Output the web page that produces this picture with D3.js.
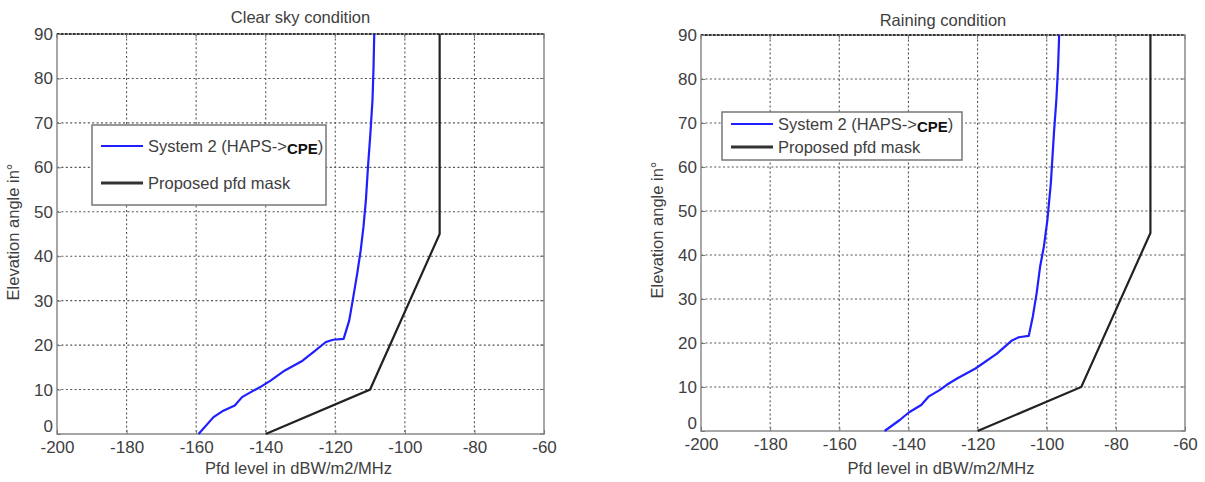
<!DOCTYPE html>
<html>
<head>
<meta charset="utf-8">
<script src="https://cdn.jsdelivr.net/npm/d3@7"></script>
<style>
  html, body { margin: 0; padding: 0; background: #fff; }
  svg { display: block; font-family: Arial, "Liberation Sans", sans-serif; }
</style>
</head>
<body>
<svg id="chart" width="1205" height="482"></svg>
<script>
// Elevation angle (deg) vs pfd level (dBW/m2/MHz)
const xTicks = [-200, -180, -160, -140, -120, -100, -80, -60];
const yTicks = [0, 10, 20, 30, 40, 50, 60, 70, 80, 90];

// System 2 (HAPS->CPE), clear sky
const clearPfd = [-159.3, -155.0, -152.5, -148.9, -146.8, -144.8, -141.7, -138.6, -134.5, -129.4, -126.3, -122.7, -120.6, -117.6, -116.0, -115.0, -113.7, -112.7, -111.9, -111.2, -110.6, -109.9, -109.3, -109.0, -108.8];
const clearElev = [0, 3.8, 5.1, 6.4, 8.3, 9.2, 10.5, 12.0, 14.3, 16.5, 18.4, 20.7, 21.2, 21.4, 25.5, 30.0, 36.1, 41.3, 46.6, 52.6, 60.1, 67.7, 75.2, 82.7, 90];

// System 2 (HAPS->CPE), raining
const rainPfd = [-146.9, -142.5, -139.9, -136.3, -134.2, -131.0, -128.9, -125.8, -120.6, -114.4, -110.2, -108.1, -105.2, -104.0, -102.9, -101.9, -100.8, -99.8, -98.8, -97.9, -97.2, -96.7, -96.4];
const rainElev = [0, 2.5, 4.2, 5.9, 7.8, 9.3, 10.5, 12.0, 14.2, 17.6, 20.5, 21.3, 21.6, 26.1, 31.4, 37.4, 42.0, 48.0, 56.4, 67.8, 75.4, 83.0, 90];

// Proposed pfd masks
const maskClearPfd = [-140, -110, -90, -90];
const maskClearElev = [0, 10, 45, 90];
const maskRainPfd = [-120, -90, -70, -70];
const maskRainElev = [0, 10, 45, 90];

const titles = ["Clear sky condition", "Raining condition"];
const legendLabels = ["System 2 (HAPS->", "CPE", ")", "Proposed pfd mask"];
const xLabel = "Pfd level in dBW/m2/MHz";
const yLabel = "Elevation angle in°";

const textColor = "#404040";
const svg = d3.select("#chart");

function panel(cfg) {
  const x = d3.scaleLinear().domain([-200, -60]).range([cfg.left, cfg.right]);
  const y = d3.scaleLinear().domain([0, 90]).range([cfg.bottom, cfg.top]);
  const g = svg.append("g");

  // dotted grid
  g.append("g").selectAll("line").data(xTicks.slice(1, -1)).join("line")
    .attr("x1", d => x(d)).attr("x2", d => x(d))
    .attr("y1", cfg.top).attr("y2", cfg.bottom)
    .attr("stroke", "#555").attr("stroke-width", 1.1).attr("stroke-dasharray", "2,2.4");
  g.append("g").selectAll("line").data(yTicks.slice(1, -1)).join("line")
    .attr("x1", cfg.left).attr("x2", cfg.right)
    .attr("y1", d => y(d)).attr("y2", d => y(d))
    .attr("stroke", "#555").attr("stroke-width", 1.1).attr("stroke-dasharray", "2,2.4");

  // frame
  g.append("rect").attr("x", cfg.left).attr("y", cfg.top)
    .attr("width", cfg.right - cfg.left).attr("height", cfg.bottom - cfg.top)
    .attr("fill", "none").attr("stroke", "#8a8a8a").attr("stroke-width", 1.5);
  g.append("line").attr("x1", cfg.left).attr("x2", cfg.right)
    .attr("y1", cfg.top).attr("y2", cfg.top)
    .attr("stroke", "#333").attr("stroke-width", 2).attr("stroke-dasharray", "2.5,1.5");

  // axes (labels and small inward ticks)
  const xAxis = d3.axisBottom(x).tickValues(xTicks).tickSize(-4).tickPadding(7).tickFormat(d3.format("d"));
  const yAxis = d3.axisLeft(y).tickValues(yTicks).tickSize(-4).tickPadding(4).tickFormat(d3.format("d"));
  const ax = g.append("g").attr("transform", `translate(0,${cfg.bottom})`).call(xAxis);
  const ay = g.append("g").attr("transform", `translate(${cfg.left},0)`).call(yAxis);
  [ax, ay].forEach(a => {
    a.select(".domain").remove();
    a.selectAll(".tick line").attr("stroke", "#777");
    a.selectAll(".tick text").attr("fill", textColor).attr("font-size", 17)
      .attr("font-family", "Arial, 'Liberation Sans', sans-serif");
  });
  ax.selectAll(".tick text").text(d => d < 0 ? "-" + Math.abs(d) : d);
  // lowest y label sits higher so it clears the x labels
  ay.selectAll(".tick").filter(d => d === 0).select("text").attr("dy", "-0.15em");
  // top/right ticks
  g.append("g").selectAll("line").data(xTicks).join("line")
    .attr("x1", d => x(d)).attr("x2", d => x(d)).attr("y1", cfg.top).attr("y2", cfg.top + 4)
    .attr("stroke", "#777");
  g.append("g").selectAll("line").data(yTicks).join("line")
    .attr("x1", cfg.right).attr("x2", cfg.right - 4).attr("y1", d => y(d)).attr("y2", d => y(d))
    .attr("stroke", "#777");

  // curves
  const line = d3.line().x(d => x(d[0])).y(d => y(d[1]));
  g.append("path").datum(d3.zip(cfg.maskX, cfg.maskY)).attr("d", line)
    .attr("fill", "none").attr("stroke", "#222").attr("stroke-width", 2.2);
  g.append("path").datum(d3.zip(cfg.sysX, cfg.sysY)).attr("d", line)
    .attr("fill", "none").attr("stroke", "#1f1fff").attr("stroke-width", 2.2).attr("stroke-linejoin", "round");

  // title and axis labels
  g.append("text").attr("x", (cfg.left + cfg.right) / 2).attr("y", cfg.titleY)
    .attr("text-anchor", "middle").attr("font-size", 16.5).attr("fill", textColor).text(cfg.title);
  g.append("text").attr("x", (cfg.left + cfg.right) / 2 - 2).attr("y", 474)
    .attr("text-anchor", "middle").attr("font-size", 16.5).attr("fill", textColor).text(xLabel);
  g.append("text").attr("transform", `translate(${cfg.left - 38},${cfg.yLabelC}) rotate(-90)`)
    .attr("text-anchor", "middle").attr("font-size", 16.5).attr("fill", textColor).text(yLabel);

  // legend
  const L = cfg.legend;
  g.append("rect").attr("x", L.x).attr("y", L.y).attr("width", L.w).attr("height", L.h)
    .attr("fill", "#fff").attr("stroke", "#777").attr("stroke-width", 1.5);
  const rows = [
    { color: "#1f1fff", y: L.row1, w: 2 },
    { color: "#333", y: L.row2, w: 3 }
  ];
  rows.forEach(r => {
    g.append("line").attr("x1", L.x + 9).attr("x2", L.x + 51).attr("y1", r.y).attr("y2", r.y)
      .attr("stroke", r.color).attr("stroke-width", r.w);
  });
  const t1 = g.append("text").attr("x", L.x + 56).attr("y", L.row1 + 6)
    .attr("font-size", 16.5).attr("fill", textColor);
  t1.append("tspan").text(legendLabels[0]);
  t1.append("tspan").attr("font-weight", "bold").attr("font-size", 15).attr("fill", "#111")
    .attr("dy", 2).text(legendLabels[1]);
  t1.append("tspan").attr("dy", -2).text(legendLabels[2]);
  g.append("text").attr("x", L.x + 56).attr("y", L.row2 + 6)
    .attr("font-size", 16.5).attr("fill", textColor).text(legendLabels[3]);
}

panel({
  left: 57, right: 544, top: 34, bottom: 434, titleY: 23, yLabelC: 232,
  title: titles[0],
  sysX: clearPfd, sysY: clearElev, maskX: maskClearPfd, maskY: maskClearElev,
  legend: { x: 92, y: 125, w: 234, h: 80, row1: 146, row2: 183 }
});
panel({
  left: 701, right: 1185, top: 35, bottom: 431, titleY: 26, yLabelC: 230,
  title: titles[1],
  sysX: rainPfd, sysY: rainElev, maskX: maskRainPfd, maskY: maskRainElev,
  legend: { x: 722, y: 112, w: 240, h: 48, row1: 124, row2: 147 }
});
</script>
</body>
</html>
